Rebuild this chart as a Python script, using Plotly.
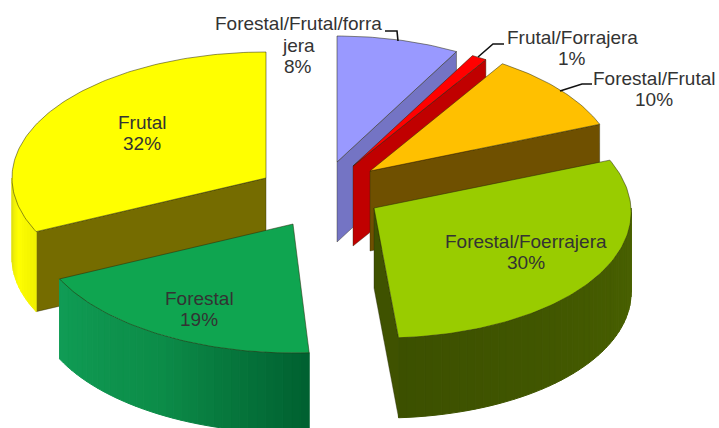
import math
import plotly.graph_objects as go

# ---- data (clockwise from 12 o'clock) ----
categories = ["Forestal/Frutal/forrajera", "Frutal/Forrajera", "Forestal/Frutal",
              "Forestal/Foerrajera", "Forestal", "Frutal"]
values = [8, 1, 10, 30, 19, 32]
label_lines = [["Forestal/Frutal/forra", "jera", "8%"], ["Frutal/Forrajera", "1%"],
               ["Forestal/Frutal", "10%"], ["Forestal/Foerrajera", "30%"],
               ["Forestal", "19%"], ["Frutal", "32%"]]

# ---- styles / layout ----
W, H = 719, 428
DEPTH = 80
apex = {"Forestal/Frutal/forrajera": (337, 162), "Frutal/Forrajera": (353, 166),
        "Forestal/Frutal": (370, 171), "Forestal/Foerrajera": (374, 208),
        "Forestal": (293, 224), "Frutal": (266, 178)}
# perspective of each exploded piece: rx, ry, shear
shape3d = {"Forestal/Frutal/forrajera": (248, 126, 0), "Frutal/Forrajera": (248, 126, 0),
           "Forestal/Frutal": (247, 127, 0), "Forestal/Foerrajera": (257, 130, 0.065),
           "Forestal": (258, 129, 0), "Frutal": (254, 126, 0)}
top_col = {"Forestal/Frutal/forrajera": "#9999FF", "Frutal/Forrajera": "#FF0000",
           "Forestal/Frutal": "#FFC000", "Forestal/Foerrajera": "#99CC00",
           "Forestal": "#0FA550", "Frutal": "#FFFF00"}
radial_col = {"Forestal/Frutal/forrajera": "#7474C4", "Frutal/Forrajera": "#C00000",
              "Forestal/Frutal": "#6F5000", "Forestal/Foerrajera": "#3F5200",
              "Forestal": "#0A7A3C", "Frutal": "#756C00"}
wall_cols = {"Forestal": [(0, 0x60, 0x30), (0x0C, 0x8C, 0x48), (0x10, 0x9C, 0x55)],
             "Forestal/Foerrajera": [(0x4A, 0x62, 0x00), (0x42, 0x58, 0x00), (0x3C, 0x50, 0x00)],
             "Frutal": [(0xF0, 0xF0, 0x00), (0xFF, 0xFF, 0x00), (0xE0, 0xE0, 0x10)]}
label_pos = {"Forestal/Frutal/forrajera": (298, 45), "Frutal/Forrajera": (572, 48),
             "Forestal/Frutal": (654, 89), "Forestal/Foerrajera": (526, 252),
             "Forestal": (199, 309), "Frutal": (142, 133)}
leaders = [((385, 31), (397, 31), (398, 41)),
           ((504, 44), (493, 44), (478, 57)),
           ((592, 84), (582, 84), (560, 91))]
OUTLINE = "rgba(40,40,10,0.65)"
FONT = "Liberation Sans"
FONT_SIZE = 19
LINE_GAP = 21.5

fig = go.Figure()


def pt(name, a, dy=0):
    r = math.radians(a)
    c = apex[name]
    rx, ry, k = shape3d[name]
    off = -ry * math.cos(r)
    return c[0] + rx * math.sin(r) + k * off, c[1] + off + dy


def poly(points, fill, line=None, width=0.0):
    xs = [p[0] for p in points] + [points[0][0]]
    ys = [p[1] for p in points] + [points[0][1]]
    fig.add_trace(go.Scatter(x=xs, y=ys, mode="lines", fill="toself", fillcolor=fill,
                             line=dict(color=line or fill, width=width),
                             hoverinfo="skip", showlegend=False))


def arc(name, a0, a1, dy=0, step=1.0):
    n = max(2, int(abs(a1 - a0) / step) + 1)
    return [pt(name, a0 + (a1 - a0) * i / (n - 1), dy) for i in range(n)]


def mix(cols, t):
    s = t * (len(cols) - 1)
    i = min(int(s), len(cols) - 2)
    f = s - i
    rgb = [round(cols[i][k] + (cols[i + 1][k] - cols[i][k]) * f) for k in range(3)]
    return "rgb(%d,%d,%d)" % tuple(rgb)


# angular spans computed from the values
total = sum(values)
spans = {}
run = 0
for name, v in zip(categories, values):
    spans[name] = (run * 360 / total, (run + v) * 360 / total)
    run += v

# paint order: back pieces first, nearest last
order = ["Frutal", "Forestal", "Forestal/Frutal/forrajera", "Frutal/Forrajera",
         "Forestal/Frutal", "Forestal/Foerrajera"]
for name in order:
    a0, a1 = spans[name]
    c = apex[name]
    # radial faces turned to the viewer
    for a, vis in ((a0, math.sin(math.radians(a0)) < 0), (a1, math.sin(math.radians(a1)) > 0)):
        if vis:
            p = pt(name, a)
            poly([c, p, (p[0], p[1] + DEPTH), (c[0], c[1] + DEPTH)],
                 radial_col[name], OUTLINE, 0.6)
    # curved outer wall, only where it faces the viewer
    lo, hi = max(a0, 90), min(a1, 270)
    if hi > lo and name in wall_cols:
        steps = int((hi - lo) / 2) + 1
        for i in range(steps):
            s0 = lo + (hi - lo) * i / steps
            s1 = lo + (hi - lo) * (i + 1) / steps
            t = ((s0 + s1) / 2 - lo) / (hi - lo)
            col = mix(wall_cols[name], t)
            top = arc(name, s0, s1)
            bot = arc(name, s1, s0, DEPTH)
            poly(top + bot, col, col, 1.0)
    # top face
    poly([c] + arc(name, a0, a1), top_col[name], OUTLINE, 0.8)

# leader lines
for seg in leaders:
    fig.add_trace(go.Scatter(x=[p[0] for p in seg], y=[p[1] for p in seg], mode="lines",
                             line=dict(color="#111111", width=1.6),
                             hoverinfo="skip", showlegend=False))

for name, lines in zip(categories, label_lines):
    x, y = label_pos[name]
    first = y - LINE_GAP * (len(lines) - 1) / 2
    for i, txt in enumerate(lines):
        fig.add_annotation(x=x, y=first + i * LINE_GAP, xref="x", yref="y", text=txt,
                           showarrow=False, align="center",
                           font=dict(family=FONT, size=FONT_SIZE, color="#333333"))

fig.update_layout(
    width=W, height=H, margin=dict(l=0, r=0, t=0, b=0),
    paper_bgcolor="white", plot_bgcolor="white", showlegend=False,
    xaxis=dict(range=[0, W], visible=False, fixedrange=True),
    yaxis=dict(range=[H, 0], visible=False, fixedrange=True),
)
fig.write_html("out.html", config={"displayModeBar": False},
               post_script="document.body.style.margin='0';document.documentElement.style.overflow='hidden';")
